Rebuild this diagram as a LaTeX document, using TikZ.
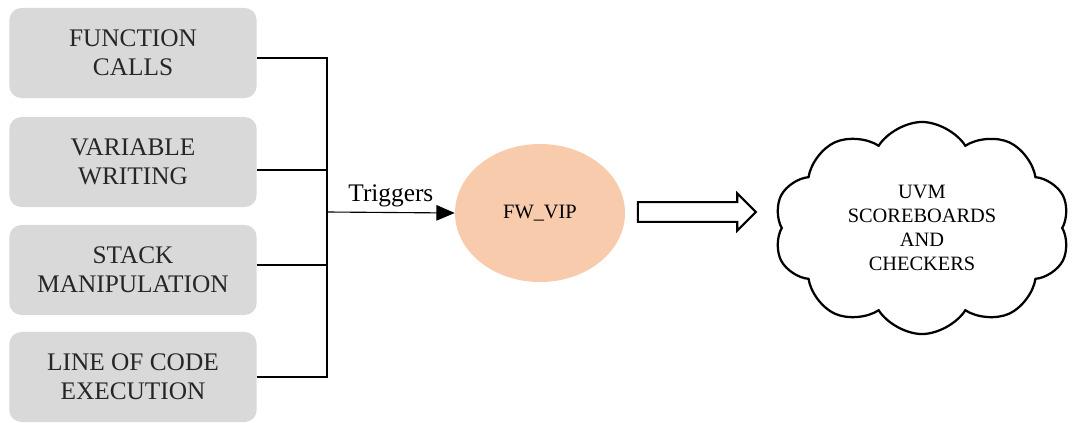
\documentclass[tikz,border=0pt]{standalone}
\usepackage{fontspec}
\setmainfont{Liberation Serif}
\usepackage{tikz}
\usetikzlibrary{positioning,shapes.geometric,shapes.symbols,shapes.arrows,arrows.meta}
\definecolor{peach}{RGB}{248,203,173}
\tikzstyle{arrow} = [line width=0.8pt, -{Triangle[length=13pt,width=11pt]}]

\begin{document}
\begin{tikzpicture}[
    x=0.025cm, y=-0.025cm,
    source/.style={
        rectangle,
        rounded corners=0.3cm,
        fill=black!15,
        text=black!85,
        minimum width=6.18cm,
        minimum height=2.25cm,
        align=center,
        font=\fontsize{18}{20.5}\selectfont
    },
    engine/.style={
        ellipse,
        fill=peach,
        minimum width=4.25cm,
        minimum height=3.45cm,
        font=\fontsize{14.5}{17}\selectfont
    },
    target/.style={
        cloud,
        cloud puffs=10,
        cloud puff arc=115,
        aspect=1.45,
        draw=black,
        line width=1.6pt,
        minimum width=7.4cm,
        minimum height=5.3cm,
        align=center,
        font=\fontsize{14.5}{17}\selectfont
    },
    bigarrow/.style={
        single arrow,
        draw=black,
        line width=1.5pt,
        fill=white,
        minimum height=2.95cm,
        single arrow head extend=0.22cm,
        single arrow head indent=0pt,
        inner xsep=0pt,
        inner ysep=0.22cm
    }
    ]
    \useasboundingbox (0,0) rectangle (1074,422);

    % event sources
    \node[source] (calls) at (133,53) {FUNCTION\\CALLS};
    \node[source] (writing) at (133,162) {VARIABLE\\WRITING};
    \node[source] (stack) at (133,270) {STACK\\MANIPULATION};
    \node[source] (lines) at (133,377) {LINE OF CODE\\EXECUTION};
    \coordinate (join) at (327,212);

    % VIP and checkers
    \node[engine] (vip) at (540,213) {FW\_VIP};
    \node[bigarrow] (push) at (692,212) {};
    \node[target] (checks) at (922,228) {UVM\\SCOREBOARDS\\AND\\CHECKERS};

    \draw[line width=0.8pt] ([yshift=-0.125cm]calls.east) -| (join);
    \draw[line width=0.8pt] ([yshift=-0.2cm]writing.east) -| (join);
    \draw[line width=0.8pt] ([yshift=0.125cm]stack.east) -| (join);
    \draw[line width=0.8pt] (lines.east) -| (join);
    \draw[arrow] (join) -- node[above, font=\fontsize{18}{20}\selectfont]{Triggers} (vip.west);
\end{tikzpicture}
\end{document}
